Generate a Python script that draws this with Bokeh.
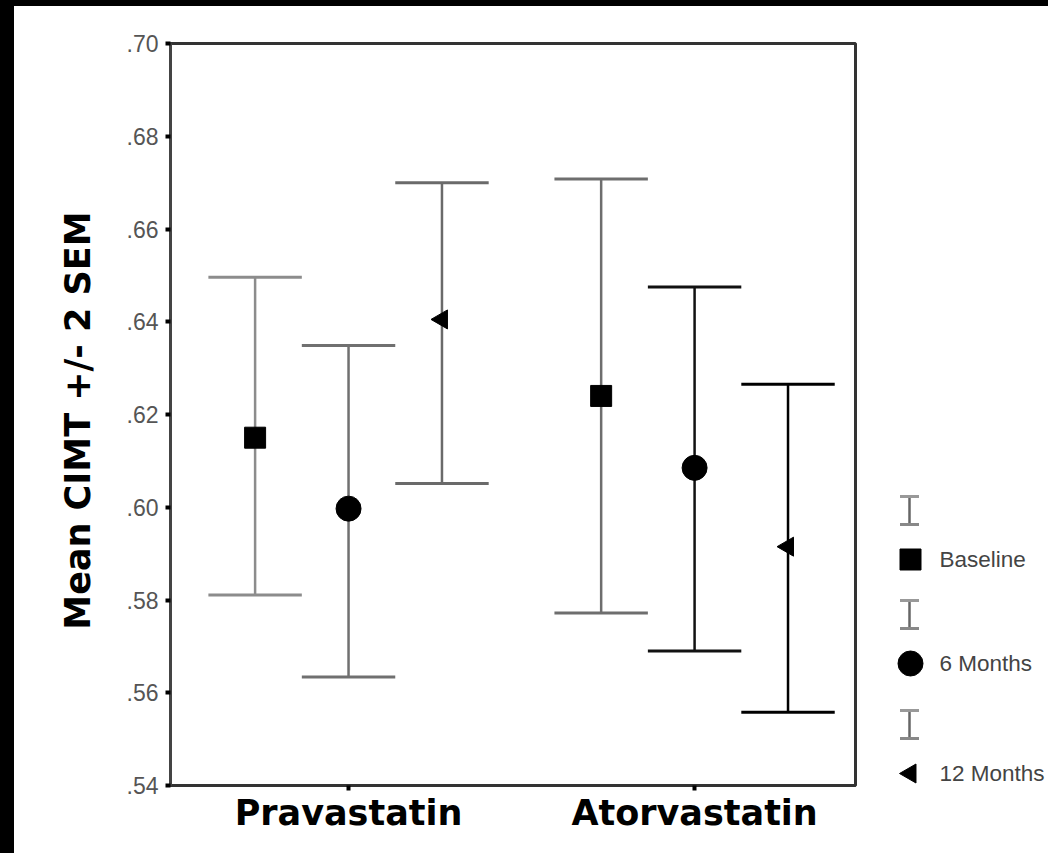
import numpy as np
from bokeh.plotting import figure
from bokeh.models import Range1d, FixedTicker, CustomJSTickFormatter, Div
from bokeh.layouts import row, column
from bokeh.core.properties import value
from bokeh.embed import file_html
from bokeh.resources import INLINE

# ---------------- data ----------------
categories = ["Pravastatin", "Atorvastatin"]
series = ["Baseline", "6 Months", "12 Months"]

baseline_mean = [0.6150, 0.6240]
baseline_upper = [0.6496, 0.6708]
baseline_lower = [0.5811, 0.5772]

m6_mean = [0.5997, 0.6085]
m6_upper = [0.6349, 0.6475]
m6_lower = [0.5634, 0.5690]

m12_mean = [0.6405, 0.5915]
m12_upper = [0.6700, 0.6265]
m12_lower = [0.6051, 0.5558]

y_ticks = [0.54, 0.56, 0.58, 0.60, 0.62, 0.64, 0.66, 0.68, 0.70]
y_label = "Mean CIMT +/-  2 SEM"

# ---------------- styling ----------------
means = [baseline_mean, m6_mean, m12_mean]
uppers = [baseline_upper, m6_upper, m12_upper]
lowers = [baseline_lower, m6_lower, m12_lower]
offsets = [-0.27, 0.0, 0.27]
cap_half = 0.135
markers = ["square", "circle", "triangle"]
marker_sizes = [21, 25, 19]
marker_angles = [0.0, 0.0, np.pi / 2]
bar_colors = [["#8c8c8c", "#6e6e6e"], ["#707070", "#111111"], ["#6a6a6a", "#000000"]]

p = figure(frame_width=685, frame_height=742,
           x_range=Range1d(-0.0145, 1.965), y_range=Range1d(0.54, 0.70),
           output_backend="svg", toolbar_location=None,
           min_border_left=156, min_border_right=33,
           min_border_top=37, min_border_bottom=68)
p.grid.visible = False
p.outline_line_color = "#333333"
p.outline_line_width = 3
p.background_fill_color = "white"
p.border_fill_color = "white"

idx = np.arange(len(categories), dtype=float) + 0.5
for s in range(len(series)):
    x = idx + offsets[s]
    lo = np.array(lowers[s])
    up = np.array(uppers[s])
    mn = np.array(means[s])
    cols = bar_colors[s]
    p.segment(x0=x, y0=lo, x1=x, y1=up, line_color=cols, line_width=2.5)
    p.segment(x0=x - cap_half, y0=up, x1=x + cap_half, y1=up, line_color=cols, line_width=3)
    p.segment(x0=x - cap_half, y0=lo, x1=x + cap_half, y1=lo, line_color=cols, line_width=3)
    p.scatter(x=x, y=mn, marker=markers[s], size=marker_sizes[s], angle=marker_angles[s],
              fill_color="black", line_color="black")

# x axis
p.xaxis.ticker = FixedTicker(ticks=list(idx))
p.xaxis.major_label_overrides = {float(v): c for v, c in zip(idx, categories)}
p.xaxis.major_label_text_font = "DejaVu Sans"
p.xaxis.major_label_text_font_style = "bold"
p.xaxis.major_label_text_font_size = "35px"
p.xaxis.major_label_text_color = "black"
p.xaxis.major_label_standoff = 2
p.xaxis.minor_tick_line_color = None
p.xaxis.major_tick_in = 0
p.xaxis.major_tick_out = 5
p.xaxis.major_tick_line_width = 4
p.xaxis.major_tick_line_color = "black"
p.xaxis.axis_line_color = "#333333"
p.xaxis.axis_line_width = 3

# y axis
p.yaxis.ticker = FixedTicker(ticks=y_ticks)
p.yaxis.formatter = CustomJSTickFormatter(code="return tick.toFixed(2).replace(/^0/, '');")
p.yaxis.major_label_text_font = "Liberation Sans"
p.yaxis.major_label_text_font_size = "23px"
p.yaxis.major_label_text_color = "#555555"
p.yaxis.major_label_standoff = 7
p.yaxis.minor_tick_line_color = None
p.yaxis.major_tick_in = 0
p.yaxis.major_tick_out = 5
p.yaxis.major_tick_line_width = 4
p.yaxis.major_tick_line_color = "black"
p.yaxis.axis_line_color = "#444444"
p.yaxis.axis_line_width = 3
p.yaxis.axis_label = y_label
p.yaxis.axis_label_text_font = "DejaVu Sans"
p.yaxis.axis_label_text_font_style = "bold"
p.yaxis.axis_label_text_font_size = "35px"
p.yaxis.axis_label_text_color = "black"
p.yaxis.axis_label_standoff = 26

# ---------------- legend panel (page-pixel coordinates) ----------------
q = figure(width=160, height=847, x_range=Range1d(888, 1048), y_range=Range1d(785, 43),
           x_axis_type=None, y_axis_type=None,
           output_backend="svg", toolbar_location=None,
           min_border_left=0, min_border_right=0, min_border_top=37, min_border_bottom=68)
q.grid.visible = False
q.outline_line_color = None
q.border_fill_color = "white"
q.background_fill_color = "white"

leg_x = 909
leg_text_x = 939
leg_marker_y = np.array([559.0, 663.0, 773.0])
bar_c = leg_marker_y - 49
q.segment(x0=leg_x, y0=bar_c - 14, x1=leg_x, y1=bar_c + 14, line_color="#666666", line_width=2.5)
q.segment(x0=leg_x - 9.5, y0=bar_c - 14, x1=leg_x + 9.5, y1=bar_c - 14, line_color="#999999", line_width=3)
q.segment(x0=leg_x - 9.5, y0=bar_c + 14, x1=leg_x + 9.5, y1=bar_c + 14, line_color="#888888", line_width=3)
for s in range(len(series)):
    q.scatter(x=[leg_x + 1], y=[leg_marker_y[s]], marker=markers[s], size=marker_sizes[s],
              angle=marker_angles[s], fill_color="black", line_color="black")
q.text(x=[leg_text_x] * len(series), y=leg_marker_y, text=series,
       text_baseline="middle", text_align="left",
       text_font=value("Liberation Sans"), text_font_size="22.5px", text_color="#444444")

top_strip = Div(width=1048, height=6, margin=0, styles={"background-color": "black"})
left_strip = Div(width=14, height=847, margin=0, styles={"background-color": "black"})
body_row = row(left_strip, p, q, styles={"background-color": "white"})
layout = column(top_strip, body_row, styles={"background-color": "white"})

html = file_html(layout, INLINE)
open("out.html", "w").write(html)
